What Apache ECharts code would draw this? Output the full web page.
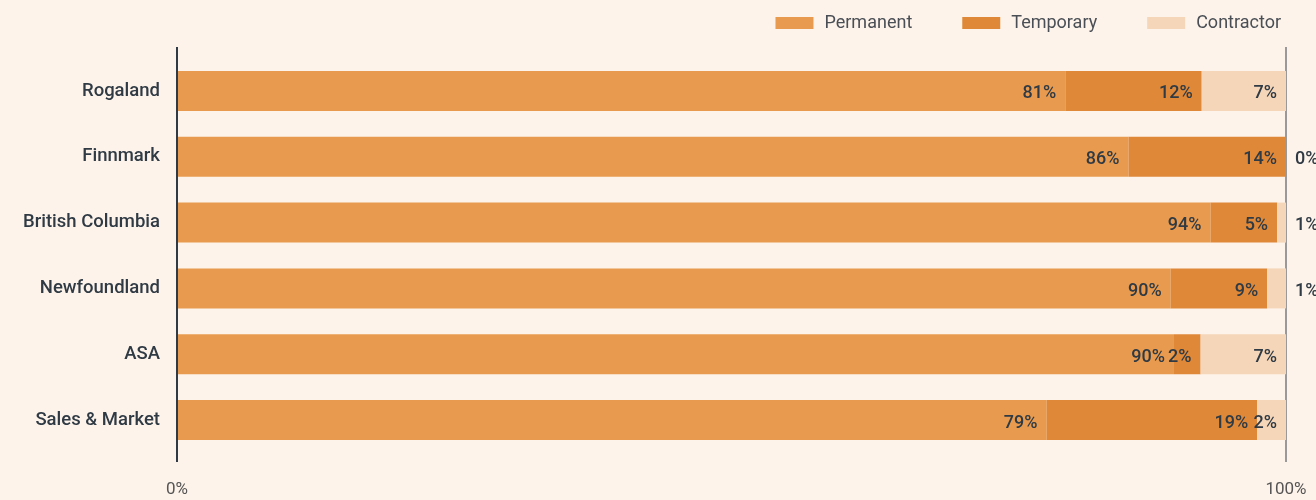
<!DOCTYPE html>
<html><head><meta charset="utf-8">
<script src="https://cdn.jsdelivr.net/npm/echarts@6/dist/echarts.min.js"></script>
<style>html,body{margin:0;padding:0;background:#fdf3ea;}#c{width:1316px;height:500px;}</style>
</head><body><div id="c"></div>
<script>
const categories = ["Rogaland","Finnmark","British Columbia","Newfoundland","ASA","Sales & Market"];
const permanent = [80.1, 85.8, 93.2, 89.6, 89.9, 78.4];
const temporary = [12.3, 14.2, 6.0, 8.7, 2.4, 19.0];
const contractor = [7.6, 0, 0.8, 1.7, 7.7, 2.6];
const permanentLabels = ["81%","86%","94%","90%","90%","79%"];
const temporaryLabels = ["12%","14%","5%","9%","2%","19%"];
const contractorLabels = ["7%","0%","1%","1%","7%","2%"];
const xTicks = {0:"0%",100:"100%"};

const font = "Roboto, 'DejaVu Sans', sans-serif";
function mk(name, vals, labels, color, outsideSmall){
  return {
    name, type:'bar', stack:'t', barWidth:40, itemStyle:{color},
    data: vals.map((v,i)=>{
      const d = {value:v};
      const outside = outsideSmall && v < 2;
      d.label = {show:true, position: outside ? 'right' : 'insideRight', distance: 9, offset:[0,3],
        formatter: labels[i], color:'#2f3a44', fontSize:18, fontWeight:500, fontFamily:font};
      return d;
    })
  };
}
const chart = echarts.init(document.getElementById('c'));
chart.setOption({
  backgroundColor:'#fdf3ea',
  animation:false,
  legend:{top:9, right:30, itemWidth:38, itemHeight:12, itemGap:50, icon:'rect',
    textStyle:{color:'#4a4f55', fontSize:18, fontFamily:font, padding:[0,0,0,6]}},
  grid:{left:177, right:30, top:58, bottom:47},
  xAxis:{type:'value', min:0, max:100, interval:100,
    axisLine:{show:false}, axisTick:{show:false},
    axisLabel:{formatter:v=>xTicks[v], color:'#555', fontSize:17, fontFamily:font, margin:28},
    splitLine:{show:false}},
  yAxis:{type:'category', data:categories, inverse:true,
    axisLine:{show:false}, axisTick:{show:false},
    axisLabel:{color:'#2f3a44', fontSize:18.5, fontWeight:500, fontFamily:font, margin:17, padding:[6,0,0,0]}},
  series:[
    mk('Permanent', permanent, permanentLabels, '#e89b4f', false),
    mk('Temporary', temporary, temporaryLabels, '#df8838', false),
    mk('Contractor', contractor, contractorLabels, '#f6d6b8', true)
  ]
});
// axis lines at 0% and 100%, slightly extended beyond the category bands
const x0 = chart.convertToPixel({xAxisIndex:0}, 0);
const x1 = chart.convertToPixel({xAxisIndex:0}, 100);
const yTop = 58 - 11, yBot = 500 - 47 + 9;
chart.setOption({graphic:[
  {type:'line', z:1, shape:{x1:x1, y1:yTop, x2:x1, y2:yBot}, style:{stroke:'#999', lineWidth:2}},
  {type:'line', z:100, shape:{x1:x0, y1:yTop, x2:x0, y2:yBot}, style:{stroke:'#2f3a44', lineWidth:2}}
]});
</script></body></html>
